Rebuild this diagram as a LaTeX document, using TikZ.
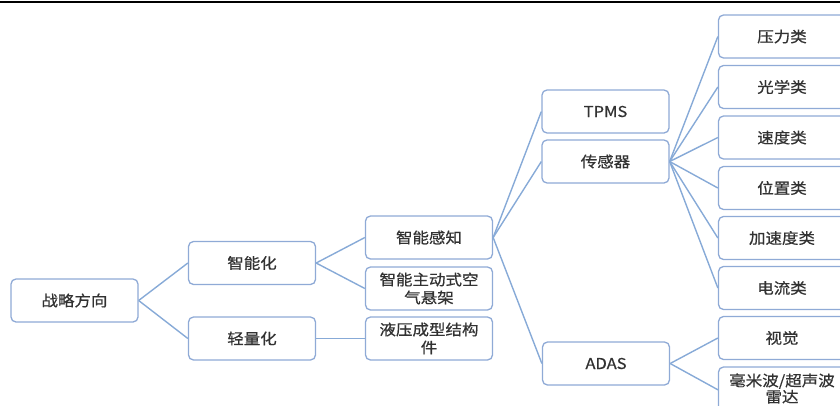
\documentclass[tikz,border=0pt]{standalone}
\usepackage{fontspec}
\newfontfamily\cjk[FakeStretch=1.1, FakeBold=0.6]{Noto Sans CJK SC}
\definecolor{boxc}{RGB}{143,170,214}
\definecolor{linec}{RGB}{135,170,215}
\definecolor{txt}{RGB}{50,50,50}
\begin{document}
\begin{tikzpicture}[x=1pt,y=-1pt,
  box/.style={draw=boxc, line width=1.3pt, rounded corners=5pt, fill=white, text=txt,
    font=\cjk\fontsize{15}{18}\selectfont, align=center, inner sep=0pt,
    minimum width=127pt, minimum height=43pt},
  link/.style={draw=linec, line width=1.4pt}]
\useasboundingbox (0,0) rectangle (840,405);
\draw[line width=1.6pt, black] (0,2) -- (840,2);
% level 0
\node[box] (strat) at (74.5,300.5) {战略方向};
% level 1
\node[box] (zn) at (252,263) {智能化};
\node[box] (qlh) at (252,338.5) {轻量化};
% level 2
\node[box] (zngz) at (429,237.5) {智能感知};
\node[box] (zkqx) at (429,288.5) {智能主动式空\\气悬架};
\node[box] (yy) at (429,338.5) {液压成型结构\\件};
% level 3
\node[box] (tpms) at (605.5,111.5) {TPMS};
\node[box] (cgq) at (605.5,161.5) {传感器};
\node[box] (adas) at (606,363.5) {ADAS};
% level 4
\node[box] (ylx) at (782,36.5) {压力类};
\node[box] (gxx) at (782,87) {光学类};
\node[box] (sdx) at (782,137.5) {速度类};
\node[box] (wzx) at (782,188) {位置类};
\node[box] (jsd) at (782,238) {加速度类};
\node[box] (dlx) at (782,288) {电流类};
\node[box] (sj) at (782,338) {视觉};
\draw[draw=boxc, line width=1.3pt, rounded corners=5pt, fill=white] (718.5,367) rectangle (846,420);
\node[text=txt, font=\cjk\fontsize{15}{15}\selectfont, align=center, inner sep=0pt, minimum width=127pt] (hmb) at (782,388.5) {毫米波/超声波\\雷达};
% connectors
\draw[link] (strat.east) -- (zn.west);
\draw[link] (strat.east) -- (qlh.west);
\draw[link] (zn.east) -- (zngz.west);
\draw[link] (zn.east) -- (zkqx.west);
\draw[link] (qlh.east) -- (yy.west);
\draw[link] (zngz.east) -- (tpms.west);
\draw[link] (zngz.east) -- (cgq.west);
\draw[link] (zngz.east) -- (adas.west);
\foreach \t in {ylx,gxx,sdx,wzx,jsd,dlx} \draw[link] (cgq.east) -- (\t.west);
\draw[link] (adas.east) -- (sj.west);
\draw[link] (adas.east) -- ([yshift=-1.5pt]hmb.west);
\end{tikzpicture}
\end{document}
